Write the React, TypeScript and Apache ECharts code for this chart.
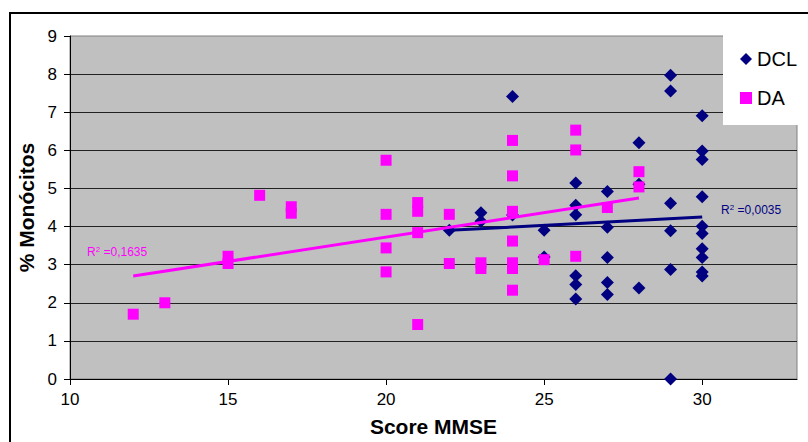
import React, { useEffect, useRef } from "react";
import * as echarts from "echarts";

// MMSE score vs % monocytes, two patient groups
const dclScores = [22, 23, 23, 24, 24, 25, 25, 26, 26, 26, 26, 26, 26, 27, 27, 27, 27, 27, 28, 28, 28, 29, 29, 29, 29, 29, 29, 30, 30, 30, 30, 30, 30, 30, 30, 30, 30];
const dclMono = [3.9, 4.36, 4.14, 7.41, 4.3, 3.9, 3.2, 5.14, 4.56, 4.31, 2.71, 2.48, 2.1, 4.92, 3.98, 3.19, 2.53, 2.22, 6.2, 5.11, 2.39, 7.97, 7.56, 4.61, 3.89, 2.87, 0.0, 6.91, 5.98, 5.76, 4.78, 4.01, 3.82, 3.42, 3.19, 2.81, 2.7];

const daScores = [12, 13, 15, 15, 16, 17, 17, 20, 20, 20, 20, 21, 21, 21, 21, 22, 22, 23, 23, 24, 24, 24, 24, 24, 24, 24, 25, 26, 26, 26, 27, 28, 28];
const daMono = [1.7, 2.0, 3.22, 3.03, 4.82, 4.52, 4.35, 5.74, 4.32, 3.44, 2.81, 4.63, 4.4, 3.84, 1.43, 4.32, 3.03, 3.05, 2.9, 6.26, 5.33, 4.4, 3.62, 3.05, 2.9, 2.33, 3.13, 6.53, 6.01, 3.22, 4.5, 5.44, 5.04];

// Linear trend lines (end points)
const dclTrendX = [22, 30];
const dclTrendY = [3.9, 4.25];
const daTrendX = [12, 28];
const daTrendY = [2.7, 4.75];

const dclR2 = "0,0035";
const daR2 = "0,1635";

const xTicks = [10, 15, 20, 25, 30];

const NAVY = "#000080";
const MAGENTA = "#FF00FF";
const FONT = "'Liberation Sans', Arial, sans-serif";

const zip = (xs: number[], ys: number[]) => xs.map((x, i) => [x, ys[i]]);

export default function App() {
  const ref = useRef<HTMLDivElement>(null);

  useEffect(() => {
    if (!ref.current) return;
    const chart = echarts.init(ref.current, undefined, { renderer: "svg" });

    const r2Text = (val: string, color: string, x: number, y: number) => ({
      type: "text",
      x,
      y,
      z: 5,
      style: {
        text: `{a|R}{s|2}{a| =${val}}`,
        verticalAlign: "middle",
        fill: color,
        rich: {
          a: { fontFamily: FONT, fontSize: 12, fill: color },
          s: { fontFamily: FONT, fontSize: 8, fill: color, verticalAlign: "top", padding: [0, 0, 6, 0] },
        },
      },
    });

    chart.setOption({
      animation: false,
      backgroundColor: "#ffffff",
      grid: {
        left: 70,
        top: 36,
        right: 11,
        bottom: 63,
        show: true,
        backgroundColor: "#C0C0C0",
        borderColor: "#808080",
        borderWidth: 1,
      },
      xAxis: {
        type: "value",
        min: 10,
        max: 33,
        interval: 5,
        axisLine: { show: true, onZero: false, lineStyle: { color: "#000", width: 1 } },
        axisTick: { show: true, length: 6, customValues: xTicks, lineStyle: { color: "#000" } },
        axisLabel: {
          customValues: xTicks,
          fontFamily: FONT,
          fontSize: 17,
          color: "#000",
          margin: 12,
        },
        splitLine: { show: false },
        name: "Score MMSE",
        nameLocation: "middle",
        nameGap: 37,
        nameTextStyle: { fontFamily: FONT, fontSize: 21, fontWeight: "bold", color: "#000" },
      },
      yAxis: {
        type: "value",
        min: 0,
        max: 9,
        interval: 1,
        axisLine: { show: true, onZero: false, lineStyle: { color: "#000", width: 1 } },
        axisTick: { show: true, length: 6, lineStyle: { color: "#000" } },
        axisLabel: { fontFamily: FONT, fontSize: 17, color: "#000", margin: 13 },
        splitLine: { show: true, showMaxLine: false, lineStyle: { color: "#222", width: 1 } },
        name: "% Monócitos",
        nameLocation: "middle",
        nameGap: 29,
        nameTextStyle: { fontFamily: FONT, fontSize: 21, fontWeight: "bold", color: "#000" },
      },
      legend: {
        data: ["DCL", "DA"],
        orient: "vertical",
        left: 735,
        top: 44,
        itemGap: 19,
        itemWidth: 12,
        itemHeight: 12,
        itemStyle: { borderWidth: 0, opacity: 1 },
        textStyle: { fontFamily: FONT, fontSize: 20, color: "#000" },
        z: 6,
      },
      graphic: [
        {
          type: "rect",
          shape: { x: 10, y: 13, width: 840, height: 460 },
          style: { fill: "none", stroke: "#000", lineWidth: 2 },
          z: 1,
        },
        {
          type: "rect",
          shape: { x: 723, y: 20, width: 100, height: 105 },
          style: { fill: "#ffffff" },
          z: 5,
        },
        r2Text(daR2, MAGENTA, 87, 252),
        r2Text(dclR2, NAVY, 721, 210),
      ],
      series: [
        {
          name: "DCL",
          type: "scatter",
          data: zip(dclScores, dclMono),
          symbol: "diamond",
          symbolSize: 13,
          itemStyle: { color: NAVY, opacity: 1 },
          z: 2,
        },
        {
          name: "DA",
          type: "scatter",
          data: zip(daScores, daMono),
          symbol: "rect",
          symbolSize: 11,
          itemStyle: { color: MAGENTA, opacity: 1 },
          z: 3,
        },
        {
          name: "DCL trend",
          type: "line",
          data: zip(dclTrendX, dclTrendY),
          showSymbol: false,
          symbol: "none",
          lineStyle: { color: NAVY, width: 3 },
          z: 4,
        },
        {
          name: "DA trend",
          type: "line",
          data: zip(daTrendX, daTrendY),
          showSymbol: false,
          symbol: "none",
          lineStyle: { color: MAGENTA, width: 3 },
          z: 4,
        },
      ],
    });

    return () => chart.dispose();
  }, []);

  return (
    <div
      ref={ref}
      style={{ position: "fixed", left: 0, top: 0, width: 808, height: 442 }}
    />
  );
}
